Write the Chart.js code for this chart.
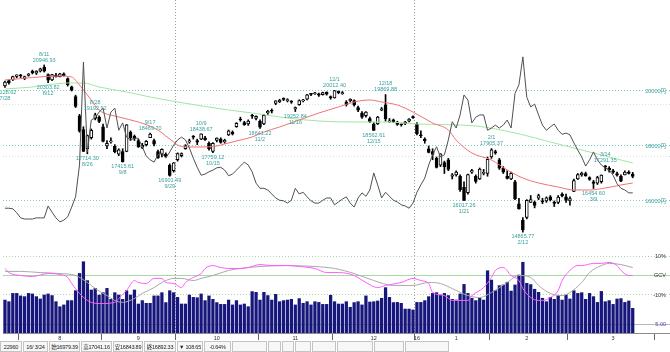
<!DOCTYPE html>
<html lang="ja">
<head>
<meta charset="UTF-8">
<title>日経平均 日足</title>
<script src="https://cdn.jsdelivr.net/npm/chart.js"></script>
<style>
  body { margin: 0; background: #fff; }
  #wrap { position: relative; width: 670px; height: 352px; overflow: hidden; background: #fff; }
  #priceChart { position: absolute; left: 0; top: 0; }
  #subChart { position: absolute; left: 0; top: 248px; }
  #status {
    position: absolute; left: 0; top: 341px; height: 11px; width: 670px;
    display: flex; font: 5.5px "Liberation Sans", "Noto Sans CJK JP", sans-serif; color: #222;
    letter-spacing: -0.2px;
  }
  #status div {
    box-sizing: border-box; height: 11px; line-height: 10px;
    border: 1px solid #c4c4c4; background: #f7f7f7; margin-right: 1px;
    text-align: center; white-space: nowrap; overflow: hidden;
  }
</style>
</head>
<body>
<div id="wrap">
  <canvas id="priceChart" width="670" height="256"></canvas>
  <canvas id="subChart" width="670" height="93"></canvas>
  <div id="status">
    <div style="width:22px">22960</div>
    <div style="width:25px">16/ 3/24</div>
    <div style="width:31px">始16979.39</div>
    <div style="width:31px">高17041.16</div>
    <div style="width:30px">安16843.89</div>
    <div style="width:32px">終16892.33</div>
    <div style="width:26px">▼ 108.65</div>
    <div style="width:27px">-0.64%</div>
    <div style="width:35px"></div>
    <div style="width:13px"></div>
    <div style="width:12px"></div>
    <div style="width:16px"></div>
    <div style="width:24px"></div>
    <div style="width:36px"></div>
    <div style="width:30px"></div>
    <div style="width:44px"></div>
  </div>
</div>

<script>
// trading days shown (2015/7/28 - 2016/3/24)
const dates = [
  "7/28","7/29","7/30","7/31",
  "8/3","8/4","8/5","8/6","8/7","8/10","8/11","8/12","8/13","8/14","8/17","8/18","8/19","8/20","8/21","8/24","8/25","8/26","8/27","8/28","8/31",
  "9/1","9/2","9/3","9/4","9/7","9/8","9/9","9/10","9/11","9/14","9/15","9/16","9/17","9/18","9/24","9/25","9/28","9/29","9/30",
  "10/1","10/2","10/5","10/6","10/7","10/8","10/9","10/13","10/14","10/15","10/16","10/19","10/20","10/21","10/22","10/23","10/26","10/27","10/28","10/29","10/30",
  "11/2","11/4","11/5","11/6","11/9","11/10","11/11","11/12","11/13","11/16","11/17","11/18","11/19","11/20","11/24","11/25","11/26","11/27","11/30",
  "12/1","12/2","12/3","12/4","12/7","12/8","12/9","12/10","12/11","12/14","12/15","12/16","12/17","12/18","12/21","12/22","12/24","12/25","12/28","12/29","12/30",
  "1/4","1/5","1/6","1/7","1/8","1/12","1/13","1/14","1/15","1/18","1/19","1/20","1/21","1/22","1/25","1/26","1/27","1/28","1/29",
  "2/1","2/2","2/3","2/4","2/5","2/8","2/9","2/10","2/12","2/15","2/16","2/17","2/18","2/19","2/22","2/23","2/24","2/25","2/26","2/29",
  "3/1","3/2","3/3","3/4","3/7","3/8","3/9","3/10","3/11","3/14","3/15","3/16","3/17","3/18","3/22","3/23","3/24"
];
const futureSlots = 9;

const opens = [
  20189,20380,20410,20530,20570,20450,20570,20720,20650,20720,
  20870,20600,20400,20580,20520,20620,20450,20150,19800,19100,
  18600,17900,18300,19000,19050,18700,18000,18150,18000,17700,
  17800,17800,18500,18350,18200,17950,18050,18300,18200,17800,
  17700,17700,17300,17100,17500,17650,17900,18150,18350,18200,
  18250,18300,18100,17800,18200,18250,18150,18400,18500,18700,
  18950,18850,18800,19100,19000,18900,18800,19200,19300,19550,
  19600,19700,19650,19620,19350,19500,19640,19700,19880,19900,
  19900,19870,19950,19800,19750,19990,19900,19600,19650,19650,
  19400,19200,19100,19000,18800,18800,19300,19500,18880,18950,
  18850,18780,18800,18900,19050,18800,18400,18250,17900,17800,
  17550,17300,17400,17500,16900,16950,16900,16500,16300,17050,
  16900,16800,17000,17000,17600,17800,17500,17200,16900,16800,
  16700,15900,15300,15400,15950,15950,16100,16000,16000,16150,
  15950,15950,16250,16150,16000,16350,16800,16950,17000,16850,
  16700,16650,16700,17280,17200,17100,17000,16900,16950,17050,
  16979.39
];
const highs = [
  20360,20400,20540,20590,20600,20540,20640,20760,20740,20830,
  20946.93,20620,20610,20640,20640,20660,20480,20180,19850,19150,
  18700,18400,18620,19192.92,19100,18800,18200,18300,18050,17900,
  17900,18780,18550,18400,18250,18100,18200,18469.70,18250,17850,
  17900,17750,17350,17400,17750,17750,18050,18250,18380,18250,
  18438.67,18350,18150,18120,18300,18300,18250,18580,18550,18850,
  19050,18900,18950,19150,19100,18950,19150,19300,19350,19650,
  19700,19750,19720,19650,19420,19680,19700,19880,19900,19950,
  19920,19960,19970,19820,20012.40,20000,19980,19650,19720,19680,
  19450,19250,19250,19050,18850,19080,19400,19869.88,19000,18980,
  18900,18800,18900,19000,19100,18850,18550,18300,18000,17900,
  17600,17720,17450,17550,17000,17100,16950,16700,16980,17150,
  16950,17200,17150,17600,17905.37,17850,17550,17250,17100,17050,
  16750,16100,15400,16050,16200,16000,16250,16100,16150,16200,
  16000,16200,16300,16250,16150,16800,17000,17050,17050,16880,
  16750,16900,16950,17291.35,17250,17150,17050,16950,17100,17100,
  17041.16
];
const lows = [
  20128.62,20245,20380,20480,20490,20410,20540,20620,20600,20690,
  20690,20303.82,20380,20500,20510,20540,20180,20000,19400,18500,
  17800,17714.30,18250,18950,18850,18150,17900,18100,17750,17650,
  17415.61,17790,18200,18200,17950,17900,18000,18300,18000,17550,
  17600,17600,16901.49,17050,17450,17600,17880,18100,18250,18050,
  18230,18200,17850,17759.12,18150,18100,18100,18380,18400,18680,
  18900,18750,18750,19000,18950,18641.22,18780,19150,19200,19500,
  19580,19650,19600,19550,19252.84,19480,19600,19680,19830,19880,
  19800,19850,19850,19700,19740,19900,19880,19450,19600,19450,
  19250,19000,19050,18850,18562.61,18780,19280,18900,18850,18850,
  18750,18720,18780,18880,19000,18400,18300,18100,17750,17500,
  17200,17250,17000,17100,16800,16900,16350,16017.26,16250,17000,
  16650,16780,16950,16900,17550,17700,17150,17000,16800,16780,
  16050,15700,14865.77,15350,15950,15750,16050,15900,15950,16000,
  15800,15900,16150,15950,15850,16340,16780,16900,16900,16750,
  16454.60,16600,16650,17100,17050,17000,16900,16700,16950,16980,
  16843.89
];
const closes = [
  20328,20302,20522,20585,20548,20520,20614,20664,20724,20808,
  20720,20392,20595,20519,20620,20554,20222,20033,19435,18540,
  17806,18376,18574,19136,18890,18165,18095,18182,17792,17860,
  17427,18770,18299,18264,17965,18026,18171,18432,18070,17571,
  17880,17645,16930,17388,17722,17725,18005,18186,18322,18141,
  18438,18234,17891,18097,18291,18131,18207,18554,18435,18826,
  18947,18777,18903,19083,19083,18683,19116,19265,19265,19642,
  19671,19697,19691,19596,19393,19649,19649,19859,19879,19924,
  19847,19944,19883,19747,20012,19938,19939,19504,19698,19492,
  19301,19046,19230,18883,18565,19049,19353,18986,18916,18886,
  18789,18769,18873,18982,19033,18450,18374,18191,17767,17697,
  17218,17715,17240,17147,16955,17048,16416,16017.26,16958,17110,
  16708,17163,17041,17518,17865,17750,17191,17044,16819,17004,
  16085,15713,14952,16022,16054,15836,16196,15967,16111,16052,
  15915,16140,16188,16026,16085,16747,16960,17014,16911,16783,
  16642,16852,16938,17233,17117,17050,16936,16724,17048,17000,
  16892.33
];

// 25-day (red) and 75-day (green) averages: [day index, price]
const ma25Points = [
  [0,20400],[14,20545],[17,20509],[19,20218],[22,19673],[24,19309],[29,19055],[34,18873],
  [39,18582],[41,18364],[43,18145],[44,18036],[46,17964],[50,17964],[54,18000],[56,18073],
  [59,18182],[63,18327],[66,18509],[70,18691],[75,18945],[80,19200],[85,19418],[89,19600],
  [93,19673],[96,19600],[100,19491],[104,19236],[109,18836],[113,18582],[115,18218],[119,17745],
  [124,17491],[128,17127],[132,16836],[136,16655],[141,16509],[145,16400],[149,16400],[153,16473],
  [157,16582],[160,16655]
];
const ma75Points = [
  [0,20073],[7,20145],[16,20291],[20,20291],[24,20145],[31,19964],[37,19782],[44,19600],
  [57,19309],[63,19200],[72,19018],[80,18909],[89,18873],[97,18873],[105,18800],[120,18727],
  [130,18473],[140,18109],[150,17745],[160,17382]
];

// volatility line (black, own scale)
const viValues = [
  18.4,18.4,18.3,17.6,16.7,16.5,16.5,16.5,16.7,16.7,
  16.7,18.8,17.7,16.7,16.0,16.3,16.9,18.6,20.4,26.0,
  44.1,28.3,33.9,34.3,35.3,36.0,32.5,35.3,36.0,32.1,
  33.4,30.9,30.4,30.7,30.7,29.2,27.6,26.9,26.5,27.8,
  28.1,27.2,28.3,29.5,30.4,30.9,30.4,29.0,27.2,25.6,
  24.2,24.4,24.8,25.1,25.5,25.6,25.1,24.1,24.4,25.1,
  25.8,26.5,26.0,24.8,22.8,21.9,21.9,21.6,20.9,20.2,
  19.8,19.7,19.3,19.8,21.9,20.9,21.2,20.4,19.7,19.3,
  19.3,19.8,20.2,20.2,19.0,19.5,20.0,20.4,19.3,18.6,
  20.2,21.1,20.5,21.6,24.6,22.5,20.2,21.2,20.5,19.8,
  19.5,19.0,18.8,18.4,19.3,21.2,22.5,23.7,26.0,27.8,
  29.2,27.4,27.8,30.4,33.6,32.5,34.8,38.3,37.4,33.4,
  34.4,34.8,34.8,32.1,32.5,33.0,32.5,33.0,33.9,32.5,
  38.6,40.1,45.0,37.9,36.2,36.7,34.8,33.0,32.1,32.7,
  33.2,32.1,31.4,31.6,31.3,29.9,28.6,27.4,25.8,26.9,
  28.3,26.9,26.0,25.5,25.1,24.2,22.7,21.9,21.6,21.1,
  21.1
];

// volume (100 million shares)
const volumes = [
  18.3,17.4,22.0,22.0,20.6,20.2,22.0,21.7,20.2,18.9,
  21.1,21.7,20.8,17.4,14.6,15.6,18.0,18.0,23.5,33.1,
  39.6,29.1,23.9,24.8,21.1,22.4,24.8,18.7,22.4,21.1,
  18.7,23.5,21.1,23.9,16.1,18.0,16.5,16.5,20.6,20.6,
  22.4,16.9,23.5,22.4,19.8,16.1,16.1,21.1,19.8,19.6,
  21.7,18.0,20.6,18.7,16.9,15.9,15.9,18.3,15.6,18.0,
  15.6,16.1,14.6,23.0,22.6,18.3,22.6,20.8,18.3,21.5,
  17.4,18.0,18.3,18.7,15.6,19.1,16.5,17.4,15.6,17.4,
  17.0,15.9,15.9,21.0,17.4,16.1,16.1,17.4,14.3,16.9,
  17.4,15.6,20.6,17.2,17.4,17.8,19.3,25.2,19.8,16.9,
  17.0,16.5,13.3,13.3,12.8,17.0,17.0,18.0,20.2,22.0,
  22.4,21.1,22.0,20.8,18.7,18.3,21.7,27.0,22.0,19.3,
  18.0,19.3,18.3,34.6,29.4,23.5,26.3,26.7,28.2,23.3,
  26.7,32.2,39.3,27.6,26.9,24.3,22.6,19.3,17.4,19.8,
  18.7,20.8,18.3,21.1,18.9,23.5,22.0,22.4,18.7,22.0,
  20.2,17.0,23.1,17.4,18.0,15.9,18.9,19.1,17.0,17.8,
  13.7
];

// deviation lines in the lower panel (%): [day index, value]
const devFastPoints = [
  [0,3.6],[1,1.5],[4,0],[7,-0.5],[11,1.0],[14,0.5],[16,-1.0],[17,-4.1],[19,-9.2],[21,-12.8],
  [22,-13.8],[24,-14.4],[28,-13.8],[29,-11.8],[31,-7.7],[33,-2.6],[34,-3.6],[36,-4.1],[38,-1.5],
  [40,-1.5],[41,-3.6],[43,-4.1],[45,-6.2],[46,-3.6],[48,-1.0],[50,1.0],[51,3.6],[53,5.1],[55,4.1],
  [57,3.6],[60,3.6],[62,4.1],[65,5.6],[68,5.1],[72,5.1],[75,4.6],[79,3.6],[82,1.5],[85,1.5],
  [89,0],[92,-3.6],[95,-6.2],[97,-5.1],[101,-3.6],[104,-1.5],[106,-2.6],[108,-4.1],[109,-8.7],
  [112,-10.3],[114,-12.8],[118,-12.8],[119,-10.3],[122,-6.2],[124,-1.0],[125,2.6],[127,4.1],
  [129,0],[131,-2.6],[132,-6.7],[134,-11.3],[136,-12.8],[137,-12.8],[139,-11.3],[141,-7.7],
  [142,-2.6],[144,2.6],[146,5.1],[147,5.1],[150,6.2],[152,6.2],[154,6.7],[156,5.1],[157,2.6],
  [159,0],[160,0]
];
const devSlowPoints = [
  [0,2.1],[4,2.1],[9,1.5],[14,1.0],[18,0],[21,-3.6],[23,-6.7],[26,-10.3],[28,-12.8],[30,-13.8],
  [33,-11.8],[35,-9.2],[38,-6.2],[40,-3.6],[43,-1.5],[45,-1.5],[48,-2.6],[50,-1.5],[53,0],
  [57,2.6],[60,3.6],[65,4.6],[72,5.1],[79,4.6],[84,3.6],[89,1.0],[94,-2.6],[99,-5.1],[104,-5.1],
  [108,-3.6],[111,-4.1],[114,-6.7],[118,-10.3],[121,-11.3],[124,-8.7],[128,-3.6],[131,0],
  [134,-1.0],[136,-5.1],[139,-9.2],[142,-10.3],[144,-8.7],[147,-3.6],[149,1.5],[152,5.1],
  [154,6.2],[157,5.6],[160,4.1]
];

// highs / lows marked on the chart: [day index, 'hi' | 'lo']
const peakMarks = [
  [0,'lo'],[10,'hi'],[11,'lo'],[21,'lo'],[23,'hi'],[30,'lo'],[37,'hi'],[42,'lo'],[50,'hi'],
  [53,'lo'],[65,'lo'],[74,'lo'],[84,'hi'],[94,'lo'],[97,'hi'],[117,'lo'],[124,'hi'],[132,'lo'],
  [150,'lo'],[153,'hi']
];

const priceTicks = [16000, 18000, 20000];
const faintPriceLines = [15818, 17636, 19491];
const sessionDividers = [44, 105];
const monthStarts = [4, 25, 44, 65, 84, 105, 124, 144, 166];
const monthLabelIdx = [14, 34, 54, 74, 94, 105, 115, 133, 155];
const monthLabelText = ['8', '9', '10', '11', '12', '16', '1', '2', '3'];
const devTicks = [10, 0, -10];
const devTickText = { 10: '10%', 0: 'GCV', '-10': '-10%' };
const volTicks = [5];

// ---- build series for the library ----
const axisLabels = dates.concat(Array(futureSlots).fill(''));
const fromPoints = pts => {
  const arr = Array(axisLabels.length).fill(null);
  pts.forEach(([i, v]) => { arr[i] = v; });
  return arr;
};
const bodies = opens.map((o, i) => [o, closes[i]]);
const wicks = lows.map((l, i) => [l, highs[i]]);

const TEAL = '#3a9e9e';
const tinyFont = { family: '"Liberation Sans", "Noto Sans CJK JP", sans-serif', size: 5.5 };
const clear = 'rgba(0,0,0,0)';

const peakLabelPlugin = {
  id: 'peakLabels',
  afterDatasetsDraw(chart) {
    const { ctx } = chart;
    const x = chart.scales.x, y = chart.scales.y;
    ctx.save();
    ctx.font = '5.5px "Liberation Sans", sans-serif';
    ctx.fillStyle = TEAL;
    ctx.textAlign = 'center';
    peakMarks.forEach(([i, kind]) => {
      const px = x.getPixelForValue(i);
      if (kind === 'hi') {
        const py = y.getPixelForValue(highs[i]);
        ctx.textBaseline = 'bottom';
        ctx.fillText(highs[i].toFixed(2), px, py - 2);
        ctx.fillText(dates[i], px, py - 8);
      } else {
        const py = y.getPixelForValue(lows[i]);
        ctx.textBaseline = 'top';
        ctx.fillText(lows[i].toFixed(2), px, py + 2);
        ctx.fillText(dates[i], px, py + 8);
      }
    });
    ctx.restore();
  }
};

// main price panel
new Chart(document.getElementById('priceChart'), {
  type: 'bar',
  data: {
    labels: axisLabels,
    datasets: [
      { type: 'line', data: viValues, yAxisID: 'vi', borderColor: '#505050', borderWidth: 1,
        pointRadius: 0, order: 0 },
      { type: 'line', data: fromPoints(ma25Points), spanGaps: true, borderColor: '#f07272', borderWidth: 1,
        pointRadius: 0, cubicInterpolationMode: 'monotone', order: 0 },
      { type: 'line', data: fromPoints(ma75Points), spanGaps: true, borderColor: '#a2e6a2', borderWidth: 1,
        pointRadius: 0, cubicInterpolationMode: 'monotone', order: 0 },
      { data: bodies, grouped: false, barThickness: 3, minBarLength: 1,
        backgroundColor: c => (c.raw && c.raw[1] >= c.raw[0]) ? '#ffffff' : '#000000',
        borderColor: '#000', borderWidth: 1, borderSkipped: false, order: 1 },
      { data: wicks, grouped: false, barThickness: 1, backgroundColor: '#000', order: 2 }
    ]
  },
  options: {
    responsive: false,
    animation: false,
    events: [],
    layout: { padding: { left: 3, right: 0, top: 0, bottom: 0 } },
    plugins: { legend: { display: false }, tooltip: { enabled: false } },
    scales: {
      x: {
        offset: true,
        ticks: { display: false },
        grid: { offset: true, drawTicks: false, lineWidth: 1,
          color: c => sessionDividers.includes(c.index) ? '#9c9c9c' : clear },
        border: { display: false, dash: [1, 2] },
        afterFit: s => { s.height = 0; }
      },
      y: {
        position: 'right',
        min: 14000, max: 23309,
        afterBuildTicks: s => { s.ticks = priceTicks.concat(faintPriceLines).map(v => ({ value: v })); },
        ticks: { mirror: true, padding: -4, color: TEAL, font: tinyFont,
          callback: v => priceTicks.includes(v) ? v + '円' : '' },
        grid: { drawTicks: false,
          color: c => (c.tick && priceTicks.includes(c.tick.value)) ? '#86c6c6' : '#cde7e7' },
        border: { display: false, dash: [1, 2] },
        afterFit: s => { s.width = 0; }
      },
      vi: { display: false, min: 10, max: 55 }
    }
  },
  plugins: [peakLabelPlugin]
});

// lower panel: volume + deviation lines
new Chart(document.getElementById('subChart'), {
  type: 'bar',
  data: {
    labels: axisLabels,
    datasets: [
      { type: 'line', data: fromPoints(devFastPoints), yAxisID: 'dev', spanGaps: true, borderColor: '#ff5cff',
        borderWidth: 1, pointRadius: 0, cubicInterpolationMode: 'monotone', order: 0 },
      { type: 'line', data: fromPoints(devSlowPoints), yAxisID: 'dev', spanGaps: true, borderColor: '#a8a8a8',
        borderWidth: 1, pointRadius: 0, cubicInterpolationMode: 'monotone', order: 0 },
      { data: volumes, yAxisID: 'vol', barThickness: 2.6, backgroundColor: '#16167c', order: 1 }
    ]
  },
  options: {
    responsive: false,
    animation: false,
    events: [],
    layout: { padding: { left: 3, right: 0, top: 8, bottom: 0 } },
    plugins: { legend: { display: false }, tooltip: { enabled: false } },
    scales: {
      x: {
        offset: true,
        ticks: { autoSkip: false, maxRotation: 0, minRotation: 0, padding: -5, color: '#333', font: tinyFont,
          callback: (v, i) => { const k = monthLabelIdx.indexOf(i); return k >= 0 ? monthLabelText[k] : ''; } },
        grid: { offset: true, drawTicks: true, tickLength: 7, lineWidth: 1,
          color: c => sessionDividers.includes(c.index) ? '#9c9c9c' : clear,
          tickColor: c => monthStarts.includes(c.index) ? '#666' : clear },
        border: { display: true, color: '#8c8c8c', dash: [1, 2] },
        afterFit: s => { s.height = 8; }
      },
      dev: {
        position: 'right',
        min: -29.5, max: 10,
        afterBuildTicks: s => { s.ticks = devTicks.map(v => ({ value: v })); },
        ticks: { mirror: true, padding: -4, color: '#333', font: tinyFont, callback: v => devTickText[v] },
        grid: { drawTicks: false, color: '#a6d9a6' },
        border: { display: false, dash: c => (c.tick && c.tick.value === 0) ? [] : [1, 2] },
        afterFit: s => { s.width = 0; }
      },
      vol: {
        position: 'right',
        min: 0, max: 42.78,
        afterBuildTicks: s => { s.ticks = volTicks.map(v => ({ value: v })); },
        ticks: { mirror: true, padding: -4, color: '#4a4ab4', font: tinyFont, callback: v => v.toFixed(2) },
        grid: { drawTicks: false, color: '#b8b8b8' },
        border: { display: false },
        afterFit: s => { s.width = 0; }
      }
    }
  }
});
</script>
</body>
</html>
